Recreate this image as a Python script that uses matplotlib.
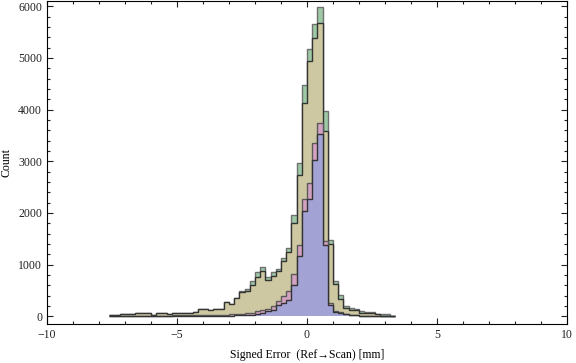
import matplotlib
matplotlib.use("Agg")
import matplotlib.pyplot as plt
from matplotlib.ticker import MultipleLocator
import numpy as np

plt.rcParams['font.family'] = ['Liberation Serif', 'DejaVu Serif']

# bin edges (width 0.2 mm)
bin_width = 0.2
edges = np.round(np.arange(-7.6, 3.41, bin_width), 2)

# counts per bin
green = [15, 20, 40, 40, 40, 60, 60, 60, 20, 70,
         70, 35, 70, 70, 70, 70, 80, 140, 140, 125,
         140, 140, 275, 245, 355, 480, 533, 688, 850, 945,
         752, 850, 920, 1128, 1320, 1965, 2970, 4470, 5165, 5650,
         5990, 3970, 1470, 675, 403, 190, 160, 140, 95, 90,
         80, 45, 35, 35, 0]
tan = [15, 20, 40, 40, 40, 60, 60, 60, 20, 70,
       70, 35, 70, 70, 70, 70, 80, 140, 140, 125,
       140, 140, 275, 240, 345, 465, 494, 597, 760, 882,
       694, 785, 868, 1062, 1245, 1805, 2730, 4130, 4940, 5380,
       5680, 3580, 1405, 625, 340, 160, 112, 112, 70, 70,
       60, 40, 10, 5, 0]
pink = [0, 0, 0, 0, 0, 0, 0, 5, 5, 10,
        10, 10, 15, 15, 15, 15, 20, 20, 20, 20,
        25, 25, 30, 35, 40, 45, 55, 60, 93, 120,
        145, 203, 287, 397, 480, 818, 1372, 2277, 2580, 3355,
        3745, 1450, 250, 100, 75, 40, 30, 20, 10, 5,
        0, 0, 0, 0, 0]
blue = [0, 0, 0, 0, 0, 0, 0, 0, 0, 3,
        3, 3, 5, 5, 5, 5, 5, 5, 5, 5,
        8, 8, 10, 12, 15, 20, 25, 30, 45, 60,
        93, 125, 222, 255, 320, 605, 1172, 2030, 2277, 3030,
        3530, 1372, 220, 85, 65, 35, 25, 15, 8, 3,
        0, 0, 0, 0, 0]

fig = plt.figure(figsize=(5.76, 3.63), dpi=100)
ax = fig.add_axes([47/576, 39/363, 520/576, 323/363])

layers = [
    (green, '#9dc9a5', '#707070'),
    (tan, '#cdc8a1', '#333333'),
    (pink, '#d3a2c0', '#5a5a5a'),
    (blue, '#a2a2d4', '#333333'),
]
for counts, fc, ec in layers:
    ax.stairs(counts, edges, fill=True, facecolor=fc, edgecolor='none')
    ax.stairs(counts, edges, baseline=None, color=ec, linewidth=1.0)

ax.set_xlim(-10, 10)
ax.set_ylim(-150, 6100)

ax.xaxis.set_major_locator(MultipleLocator(5))
ax.xaxis.set_minor_locator(MultipleLocator(1))
ax.yaxis.set_major_locator(MultipleLocator(1000))
ax.yaxis.set_minor_locator(MultipleLocator(200))
ax.tick_params(which='both', direction='in', top=True, right=True,
               labelsize=8.5, width=0.8, colors='#222222')
ax.tick_params(which='major', length=4.5)
ax.tick_params(which='minor', length=2.5)
for sp in ax.spines.values():
    sp.set_linewidth(0.8)

ax.set_xlabel('Signed Error  (Ref\u2192Scan) [mm]', fontsize=8.5, labelpad=6)
ax.set_ylabel('Count', fontsize=8.5, labelpad=4)

fig.savefig('out.png', dpi=100)
